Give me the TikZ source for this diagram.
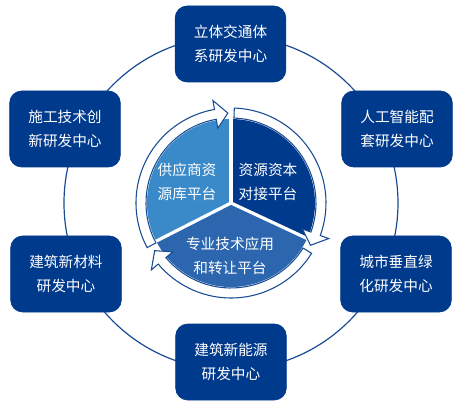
\documentclass[tikz,border=0pt]{standalone}
\usepackage{fontspec}
\setmainfont{Noto Sans CJK SC}
\usepackage{xcolor}

\definecolor{boxblue}{RGB}{0,58,140}
\definecolor{ringline}{RGB}{26,76,148}
\definecolor{lightseg}{RGB}{58,138,201}
\definecolor{midseg}{RGB}{43,102,174}

% curved arrow of the inner ring: #1 tail angle, #2 tip angle (clockwise)
\newcommand{\cyclearrow}[2]{%
  \draw[ringarrow] (#1:95) arc[start angle=#1, end angle=#2+8, radius=95]
    -- (#2+8:104) -- (#2:90) -- (#2+8:76) -- (#2+8:85)
    arc[start angle=#2+8, end angle=#1, radius=85] -- cycle;}

\begin{document}
\begin{tikzpicture}[x=0.75pt, y=0.75pt,
    centre/.style={draw=boxblue, fill=boxblue, line width=0.5pt, rounded corners=9pt,
      minimum width=83pt, minimum height=57pt, inner sep=0pt, text=white, align=center,
      font=\fontsize{11}{18}\selectfont},
    ringarrow/.style={fill=white, draw=ringline, line width=0.8pt},
    seglabel/.style={text=white, align=center, font=\fontsize{11}{17.5}\selectfont}]
  \useasboundingbox (0,0) rectangle (458,408);

  % Outer circle
  \draw[ringline, line width=0.9pt] (231,205) circle[radius=167];

  % Research centres
  \node[centre] (traffic) at (230.5,364) {立体交通体\\系研发中心};
  \node[centre] (ai) at (397,279) {人工智能配\\套研发中心};
  \node[centre] (green) at (396,134) {城市垂直绿\\化研发中心};
  \node[centre] (energy) at (231,46) {建筑新能源\\研发中心};
  \node[centre] (material) at (66,134) {建筑新材料\\研发中心};
  \node[centre] (construct) at (65,279) {施工技术创\\新研发中心};

  % Platforms
  \begin{scope}[shift={(231,205)}]
    \fill[lightseg] (0,0) -- (207:84) arc[start angle=207, end angle=90, radius=84] -- cycle;
    \fill[boxblue] (0,0) -- (90:84) arc[start angle=90, end angle=-25, radius=84] -- cycle;
    \fill[midseg] (0,0) -- (-25:84) arc[start angle=-25, end angle=-153, radius=84] -- cycle;
    \foreach \a in {90,-25,207}
      \draw[white, line width=2.4pt] (0,0) -- (\a:86);

    \cyclearrow{208}{92}
    \cyclearrow{88}{-28}
    \cyclearrow{-32}{-148}

    \node[seglabel] (supply) at (-44,21) {供应商资\\源库平台};
    \node[seglabel] (capital) at (37,21) {资源资本\\对接平台};
    \node[seglabel] (transfer) at (-1,-53) {专业技术应用\\和转让平台};
  \end{scope}
\end{tikzpicture}
\end{document}
